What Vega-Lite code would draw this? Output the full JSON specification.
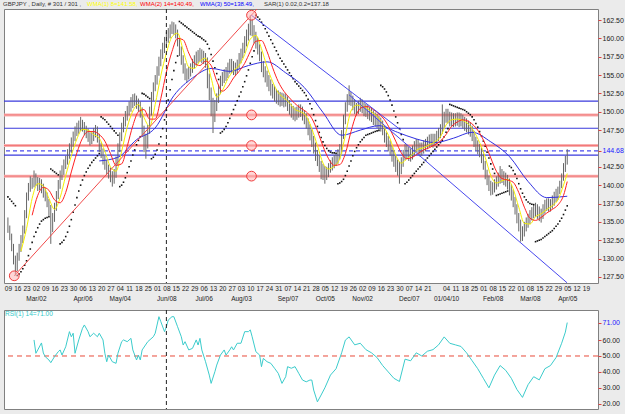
{
"$schema":"https://vega.github.io/schema/vega-lite/v6.json",
"background":"#ebebeb",
"padding":{"left":2,"top":0,"right":3,"bottom":5},
"spacing":27,
"bounds":"flush",
"config":{"view":{"stroke":"#808080","fill":"#ffffff"},"font":"Liberation Sans","axis":{"labelFont":"Liberation Sans","labelFontSize":7,"labelColor":"#222222","grid":false,"domain":false,"labelOverlap":false,"labelBound":false,"labelFlush":false}},
"datasets":{
"bars":[
{"i":0,"h":135.6,"l":133.5,"s":138.4},{"i":1,"h":134.5,"l":132.5,"s":138.1},{"i":2,"h":133.4,"l":131.0,"s":137.8},{"i":3,"h":132.0,"l":129.2,"s":137.5},{"i":4,"h":130.4,"l":127.7,"s":137.2},
{"i":5,"h":130.8,"l":128.3,"s":127.7},{"i":6,"h":132.0,"l":129.7,"s":127.9},{"i":7,"h":133.2,"l":130.9,"s":128.2},{"i":8,"h":134.5,"l":132.1,"s":128.6},{"i":9,"h":136.6,"l":133.4,"s":129.1},
{"i":10,"h":139.0,"l":135.5,"s":129.7},{"i":11,"h":140.3,"l":137.9,"s":130.4},{"i":12,"h":141.2,"l":139.1,"s":131.3},{"i":13,"h":141.0,"l":139.5,"s":132.2},{"i":14,"h":142.0,"l":139.7,"s":133.0},
{"i":15,"h":141.6,"l":139.9,"s":133.6},{"i":16,"h":141.1,"l":139.2,"s":134.2},{"i":17,"h":141.0,"l":139.3,"s":134.7},{"i":18,"h":140.8,"l":138.9,"s":135.1},{"i":19,"h":140.2,"l":138.3,"s":135.3},
{"i":20,"h":139.6,"l":137.8,"s":135.5},{"i":21,"h":139.0,"l":137.0,"s":135.6},{"i":22,"h":138.1,"l":135.8,"s":135.7},{"i":23,"h":137.3,"l":132.0,"s":142.2},{"i":24,"h":136.2,"l":133.6,"s":142.0},
{"i":25,"h":137.6,"l":135.0,"s":141.8},{"i":26,"h":139.2,"l":136.5,"s":141.6},{"i":27,"h":140.7,"l":138.1,"s":141.4},{"i":28,"h":142.0,"l":139.5,"s":132.0},{"i":29,"h":142.7,"l":140.7,"s":132.2},
{"i":30,"h":143.5,"l":141.4,"s":132.5},{"i":31,"h":144.0,"l":142.2,"s":133.0},{"i":32,"h":144.9,"l":142.8,"s":133.6},{"i":33,"h":145.7,"l":143.6,"s":134.4},{"i":34,"h":146.5,"l":144.4,"s":135.3},
{"i":35,"h":147.3,"l":145.2,"s":136.3},{"i":36,"h":148.0,"l":146.0,"s":137.3},{"i":37,"h":148.5,"l":146.7,"s":138.3},{"i":38,"h":148.8,"l":147.0,"s":139.2},{"i":39,"h":149.3,"l":147.4,"s":140.0},
{"i":40,"h":148.9,"l":147.3,"s":140.7},{"i":41,"h":148.6,"l":146.8,"s":141.3},{"i":42,"h":148.1,"l":146.4,"s":141.8},{"i":43,"h":147.7,"l":145.9,"s":142.3},{"i":44,"h":147.2,"l":145.4,"s":142.7},
{"i":45,"h":147.3,"l":145.6,"s":143.1},{"i":46,"h":147.8,"l":146.0,"s":143.4},{"i":47,"h":148.2,"l":146.5,"s":143.7},{"i":48,"h":148.0,"l":145.8,"s":144.0},{"i":49,"h":147.0,"l":144.5,"s":144.3},
{"i":50,"h":145.8,"l":143.7,"s":149.3},{"i":51,"h":145.0,"l":142.8,"s":149.1},{"i":52,"h":144.0,"l":142.1,"s":148.9},{"i":53,"h":143.4,"l":141.5,"s":148.6},{"i":54,"h":142.8,"l":140.9,"s":148.3},
{"i":55,"h":142.4,"l":140.4,"s":148.0},{"i":56,"h":141.9,"l":139.8,"s":147.7},{"i":57,"h":142.2,"l":140.2,"s":147.4},{"i":58,"h":143.9,"l":141.0,"s":147.1},{"i":59,"h":145.7,"l":142.7,"s":146.8},
{"i":60,"h":147.2,"l":144.5,"s":139.8},{"i":61,"h":148.5,"l":146.0,"s":140.0},{"i":62,"h":149.3,"l":147.2,"s":140.4},{"i":63,"h":150.1,"l":148.0,"s":141.0},{"i":64,"h":150.8,"l":148.8,"s":141.7},
{"i":65,"h":151.4,"l":149.5,"s":142.5},{"i":66,"h":152.0,"l":150.0,"s":143.3},{"i":67,"h":152.4,"l":150.5,"s":144.1},{"i":68,"h":152.5,"l":150.8,"s":144.8},{"i":69,"h":152.2,"l":150.4,"s":145.5},
{"i":70,"h":151.8,"l":150.0,"s":146.1},{"i":71,"h":151.4,"l":149.2,"s":146.6},{"i":72,"h":150.6,"l":146.6,"s":152.5},{"i":73,"h":148.1,"l":144.5,"s":152.4},{"i":74,"h":147.0,"l":143.6,"s":152.2},
{"i":75,"h":148.2,"l":145.0,"s":152.0},{"i":76,"h":150.7,"l":147.0,"s":151.8},{"i":77,"h":152.7,"l":149.5,"s":143.6},{"i":78,"h":154.0,"l":151.5,"s":143.8},{"i":79,"h":155.0,"l":152.8,"s":144.2},
{"i":80,"h":156.2,"l":153.7,"s":144.8},{"i":81,"h":157.5,"l":154.9,"s":145.6},{"i":82,"h":158.5,"l":156.2,"s":146.6},{"i":83,"h":159.4,"l":157.2,"s":147.7},{"i":84,"h":160.2,"l":158.0,"s":148.9},
{"i":85,"h":160.9,"l":158.8,"s":150.2},{"i":86,"h":161.4,"l":159.4,"s":151.6},{"i":87,"h":161.9,"l":160.0,"s":153.0},{"i":88,"h":162.3,"l":160.6,"s":154.4},{"i":89,"h":162.2,"l":160.5,"s":155.6},
{"i":90,"h":161.9,"l":160.0,"s":156.7},{"i":91,"h":161.2,"l":158.9,"s":157.6},{"i":92,"h":160.1,"l":157.6,"s":162.3},{"i":93,"h":158.9,"l":156.4,"s":162.1},{"i":94,"h":157.7,"l":155.2,"s":161.9},
{"i":95,"h":156.6,"l":154.3,"s":161.7},{"i":96,"h":155.9,"l":154.0,"s":161.5},{"i":97,"h":156.1,"l":154.4,"s":161.3},{"i":98,"h":156.6,"l":154.8,"s":161.1},{"i":99,"h":157.2,"l":155.3,"s":160.9},
{"i":100,"h":157.7,"l":155.9,"s":160.7},{"i":101,"h":158.2,"l":156.3,"s":160.5},{"i":102,"h":158.4,"l":156.6,"s":160.3},{"i":103,"h":158.7,"l":156.8,"s":160.2},{"i":104,"h":158.5,"l":156.6,"s":160.0},
{"i":105,"h":158.3,"l":156.5,"s":159.8},{"i":106,"h":158.0,"l":156.0,"s":159.6},{"i":107,"h":157.4,"l":153.2,"s":159.2},{"i":108,"h":155.2,"l":151.6,"s":158.6},{"i":109,"h":153.3,"l":149.4,"s":157.8},
{"i":110,"h":151.9,"l":147.1,"s":156.9},{"i":111,"h":151.6,"l":148.6,"s":156.0},{"i":112,"h":152.5,"l":150.1,"s":155.2},{"i":113,"h":153.7,"l":151.2,"s":154.4},{"i":114,"h":154.9,"l":152.4,"s":147.1},
{"i":115,"h":155.4,"l":153.5,"s":147.3},{"i":116,"h":155.8,"l":153.9,"s":147.6},{"i":117,"h":156.1,"l":154.2,"s":148.0},{"i":118,"h":156.7,"l":154.6,"s":148.5},{"i":119,"h":157.2,"l":155.2,"s":149.1},
{"i":120,"h":157.2,"l":155.3,"s":149.7},{"i":121,"h":156.9,"l":155.0,"s":150.3},{"i":122,"h":156.7,"l":154.9,"s":150.9},{"i":123,"h":157.1,"l":155.2,"s":151.5},{"i":124,"h":158.0,"l":155.8,"s":152.1},
{"i":125,"h":158.6,"l":156.6,"s":152.7},{"i":126,"h":159.4,"l":157.3,"s":153.4},{"i":127,"h":160.3,"l":158.0,"s":154.1},{"i":128,"h":161.2,"l":158.9,"s":154.9},{"i":129,"h":162.0,"l":159.7,"s":155.7},
{"i":130,"h":163.15,"l":160.4,"s":156.6},{"i":131,"h":162.6,"l":160.3,"s":157.5},{"i":132,"h":161.8,"l":159.3,"s":158.3},{"i":133,"h":160.9,"l":158.6,"s":163.15},{"i":134,"h":160.1,"l":157.8,"s":162.9},
{"i":135,"h":159.2,"l":156.9,"s":162.6},{"i":136,"h":158.2,"l":155.4,"s":162.2},{"i":137,"h":156.9,"l":154.7,"s":161.8},{"i":138,"h":156.2,"l":154.0,"s":161.3},{"i":139,"h":155.6,"l":153.4,"s":160.8},
{"i":140,"h":155.0,"l":152.8,"s":160.3},{"i":141,"h":154.4,"l":152.2,"s":159.8},{"i":142,"h":153.8,"l":151.8,"s":159.3},{"i":143,"h":153.5,"l":151.4,"s":158.8},{"i":144,"h":153.1,"l":151.1,"s":158.3},
{"i":145,"h":152.9,"l":150.9,"s":157.8},{"i":146,"h":152.7,"l":150.7,"s":157.3},{"i":147,"h":152.6,"l":150.8,"s":156.9},{"i":148,"h":152.5,"l":150.6,"s":156.5},{"i":149,"h":152.4,"l":150.7,"s":156.1},
{"i":150,"h":152.1,"l":150.1,"s":155.7},{"i":151,"h":151.6,"l":149.6,"s":155.3},{"i":152,"h":151.1,"l":149.2,"s":154.9},{"i":153,"h":150.8,"l":148.9,"s":154.5},{"i":154,"h":150.6,"l":148.7,"s":154.1},
{"i":155,"h":150.7,"l":148.9,"s":153.8},{"i":156,"h":151.0,"l":149.2,"s":153.5},{"i":157,"h":151.0,"l":149.3,"s":153.2},{"i":158,"h":150.7,"l":148.8,"s":152.9},{"i":159,"h":150.2,"l":148.3,"s":152.6},
{"i":160,"h":149.8,"l":147.7,"s":152.2},{"i":161,"h":149.1,"l":146.8,"s":151.7},{"i":162,"h":148.3,"l":146.1,"s":151.1},{"i":163,"h":147.6,"l":145.2,"s":150.4},{"i":164,"h":146.7,"l":144.3,"s":149.6},
{"i":165,"h":145.8,"l":143.3,"s":148.8},{"i":166,"h":144.8,"l":142.6,"s":148.0},{"i":167,"h":144.1,"l":141.8,"s":147.2},{"i":168,"h":143.3,"l":140.8,"s":146.5},{"i":169,"h":142.9,"l":140.7,"s":145.9},
{"i":170,"h":142.6,"l":140.2,"s":145.4},{"i":171,"h":142.5,"l":140.7,"s":145.0},{"i":172,"h":143.0,"l":141.1,"s":144.7},{"i":173,"h":143.4,"l":141.7,"s":144.5},{"i":174,"h":143.8,"l":142.0,"s":144.4},
{"i":175,"h":144.1,"l":142.3,"s":144.4},{"i":176,"h":144.3,"l":142.6,"s":144.35},{"i":177,"h":144.9,"l":142.9,"s":140.2},{"i":178,"h":145.6,"l":143.5,"s":140.3},{"i":179,"h":147.5,"l":144.3,"s":140.5},
{"i":180,"h":149.6,"l":146.3,"s":140.8},{"i":181,"h":151.3,"l":148.3,"s":141.3},{"i":182,"h":152.4,"l":150.0,"s":141.9},{"i":183,"h":153.6,"l":150.9,"s":142.6},{"i":184,"h":152.7,"l":150.8,"s":143.3},
{"i":185,"h":152.2,"l":150.2,"s":144.0},{"i":186,"h":151.6,"l":149.7,"s":144.6},{"i":187,"h":151.2,"l":149.5,"s":145.1},{"i":188,"h":151.5,"l":149.7,"s":145.5},{"i":189,"h":151.9,"l":150.0,"s":145.9},
{"i":190,"h":151.7,"l":149.8,"s":146.2},{"i":191,"h":151.3,"l":149.4,"s":146.5},{"i":192,"h":151.1,"l":149.3,"s":146.8},{"i":193,"h":150.9,"l":149.0,"s":146.9},{"i":194,"h":150.6,"l":148.8,"s":147.0},
{"i":195,"h":150.5,"l":148.6,"s":147.1},{"i":196,"h":150.2,"l":148.2,"s":147.2},{"i":197,"h":149.9,"l":148.0,"s":147.3},{"i":198,"h":149.7,"l":147.8,"s":147.4},{"i":199,"h":149.4,"l":147.5,"s":147.45},
{"i":200,"h":149.2,"l":147.3,"s":153.6},{"i":201,"h":148.8,"l":146.8,"s":153.4},{"i":202,"h":148.0,"l":145.8,"s":153.1},{"i":203,"h":147.2,"l":145.2,"s":152.7},{"i":204,"h":146.7,"l":144.6,"s":152.2},
{"i":205,"h":146.1,"l":144.0,"s":151.6},{"i":206,"h":145.4,"l":143.2,"s":150.9},{"i":207,"h":144.7,"l":142.5,"s":150.1},{"i":208,"h":144.0,"l":141.8,"s":149.3},{"i":209,"h":143.5,"l":141.3,"s":148.5},
{"i":210,"h":143.2,"l":140.2,"s":147.7},{"i":211,"h":143.8,"l":141.5,"s":146.9},{"i":212,"h":144.8,"l":142.5,"s":146.2},{"i":213,"h":145.6,"l":143.4,"s":140.2},{"i":214,"h":145.5,"l":143.6,"s":140.4},
{"i":215,"h":145.2,"l":143.3,"s":140.7},{"i":216,"h":145.0,"l":143.2,"s":141.0},{"i":217,"h":145.4,"l":143.5,"s":141.3},{"i":218,"h":146.0,"l":144.0,"s":141.6},{"i":219,"h":146.3,"l":144.5,"s":141.9},
{"i":220,"h":146.2,"l":144.3,"s":142.2},{"i":221,"h":145.8,"l":143.9,"s":142.5},{"i":222,"h":145.8,"l":144.0,"s":142.8},{"i":223,"h":146.1,"l":144.3,"s":143.1},{"i":224,"h":146.3,"l":144.6,"s":143.4},
{"i":225,"h":146.6,"l":144.9,"s":143.7},{"i":226,"h":146.9,"l":145.2,"s":144.0},{"i":227,"h":147.0,"l":145.3,"s":144.3},{"i":228,"h":147.0,"l":145.1,"s":144.6},{"i":229,"h":147.0,"l":145.3,"s":144.9},
{"i":230,"h":147.4,"l":145.6,"s":145.2},{"i":231,"h":147.8,"l":146.0,"s":145.5},{"i":232,"h":148.3,"l":146.4,"s":145.8},{"i":233,"h":151.0,"l":147.0,"s":146.1},{"i":234,"h":150.0,"l":147.8,"s":146.6},
{"i":235,"h":150.4,"l":148.5,"s":147.2},{"i":236,"h":150.4,"l":148.4,"s":147.7},{"i":237,"h":150.0,"l":148.0,"s":151.0},{"i":238,"h":149.9,"l":148.0,"s":150.9},{"i":239,"h":149.8,"l":147.9,"s":150.8},
{"i":240,"h":149.8,"l":148.0,"s":150.7},{"i":241,"h":149.9,"l":148.1,"s":150.6},{"i":242,"h":149.9,"l":147.9,"s":150.5},{"i":243,"h":149.8,"l":148.0,"s":150.4},{"i":244,"h":149.6,"l":147.7,"s":150.3},
{"i":245,"h":149.3,"l":147.4,"s":150.2},{"i":246,"h":149.1,"l":147.2,"s":150.0},{"i":247,"h":148.8,"l":146.9,"s":149.8},{"i":248,"h":148.5,"l":146.6,"s":149.6},{"i":249,"h":148.1,"l":146.0,"s":149.3},
{"i":250,"h":147.4,"l":145.2,"s":148.9},{"i":251,"h":146.6,"l":144.7,"s":148.4},{"i":252,"h":146.1,"l":144.2,"s":147.9},{"i":253,"h":145.6,"l":143.8,"s":147.3},{"i":254,"h":145.1,"l":143.0,"s":146.7},
{"i":255,"h":144.3,"l":142.1,"s":146.0},{"i":256,"h":143.3,"l":140.8,"s":145.3},{"i":257,"h":142.1,"l":140.0,"s":144.5},{"i":258,"h":141.3,"l":139.2,"s":143.7},{"i":259,"h":140.6,"l":138.6,"s":142.9},
{"i":260,"h":140.4,"l":138.7,"s":142.2},{"i":261,"h":140.8,"l":139.0,"s":141.6},{"i":262,"h":141.2,"l":139.4,"s":138.6},{"i":263,"h":141.7,"l":139.8,"s":138.7},{"i":264,"h":142.6,"l":140.2,"s":138.8},
{"i":265,"h":142.2,"l":140.3,"s":138.9},{"i":266,"h":141.9,"l":140.0,"s":139.0},{"i":267,"h":141.7,"l":139.8,"s":139.1},{"i":268,"h":141.4,"l":139.4,"s":139.2},{"i":269,"h":140.9,"l":138.6,"s":142.6},
{"i":270,"h":140.1,"l":137.9,"s":142.4},{"i":271,"h":139.4,"l":137.0,"s":142.0},{"i":272,"h":138.4,"l":136.0,"s":141.5},{"i":273,"h":137.4,"l":134.8,"s":140.9},{"i":274,"h":136.2,"l":133.7,"s":140.2},
{"i":275,"h":135.3,"l":132.3,"s":139.5},{"i":276,"h":134.4,"l":132.4,"s":138.9},{"i":277,"h":135.0,"l":133.0,"s":138.4},{"i":278,"h":135.6,"l":133.7,"s":138.0},{"i":279,"h":136.1,"l":134.2,"s":137.7},
{"i":280,"h":136.6,"l":134.7,"s":137.5},{"i":281,"h":137.0,"l":135.2,"s":137.4},{"i":282,"h":137.3,"l":135.5,"s":137.35},{"i":283,"h":137.6,"l":135.7,"s":132.3},{"i":284,"h":137.4,"l":135.4,"s":132.4},
{"i":285,"h":137.1,"l":135.1,"s":132.5},{"i":286,"h":136.8,"l":134.9,"s":132.6},{"i":287,"h":137.4,"l":135.4,"s":132.8},{"i":288,"h":138.0,"l":136.1,"s":133.0},{"i":289,"h":138.2,"l":136.5,"s":133.2},
{"i":290,"h":138.2,"l":136.4,"s":133.4},{"i":291,"h":138.1,"l":136.4,"s":133.6},{"i":292,"h":138.6,"l":136.8,"s":133.8},{"i":293,"h":139.1,"l":137.2,"s":134.1},{"i":294,"h":139.5,"l":137.7,"s":134.4},
{"i":295,"h":139.8,"l":138.0,"s":134.7},{"i":296,"h":140.6,"l":138.8,"s":135.1},{"i":297,"h":141.6,"l":139.6,"s":135.5},{"i":298,"h":143.0,"l":140.6,"s":136.0},{"i":299,"h":144.0,"l":141.8,"s":136.6},
{"i":300,"h":144.9,"l":142.8,"s":137.18}
],
"ma":[
{"i":7,"y":131.0},{"i":10,"y":134.1},{"i":13,"y":138.2,"r":135.9},{"i":16,"y":140.2,"r":138.6},{"i":19,"y":139.9,"r":139.7},{"i":22,"y":138.2,"r":139.3},{"i":25,"y":136.7,"r":138.0},{"i":28,"y":138.3,"r":137.6},{"i":31,"y":141.3,"r":139.0},{"i":34,"y":144.0,"r":141.8},
{"i":37,"y":146.3,"r":144.4},{"i":40,"y":147.6,"r":146.4},{"i":43,"y":147.5,"r":147.3},{"i":46,"y":146.9,"r":147.3},{"i":49,"y":146.4,"r":146.9},{"i":52,"y":144.6,"r":146.0},{"i":55,"y":142.5,"r":144.3},{"i":58,"y":141.9,"r":142.7},{"i":61,"y":144.6,"r":142.9},{"i":64,"y":147.9,"r":145.3},
{"i":67,"y":150.1,"r":148.1},{"i":70,"y":151.0,"r":150.0},{"i":73,"y":149.2,"r":150.3},{"i":76,"y":148.0,"r":149.0},{"i":79,"y":151.0,"r":149.0},{"i":82,"y":154.9,"r":151.8},{"i":85,"y":158.0,"r":155.4},{"i":88,"y":160.2,"r":158.2},{"i":91,"y":160.7,"r":160.0},{"i":94,"y":158.4,"r":159.8},
{"i":97,"y":156.1,"r":158.0},{"i":100,"y":155.9,"r":156.6},{"i":103,"y":156.9,"r":156.3},{"i":106,"y":157.3,"r":156.9},{"i":109,"y":154.6,"r":156.3},{"i":112,"y":152.0,"r":154.2},{"i":115,"y":152.9,"r":152.8},{"i":118,"y":154.5,"r":153.4},{"i":121,"y":155.6,"r":154.6},{"i":124,"y":156.3,"r":155.5},
{"i":127,"y":157.8,"r":156.6},{"i":130,"y":159.9,"r":158.2},{"i":133,"y":160.4,"r":159.6},{"i":136,"y":158.6,"r":159.7},{"i":139,"y":156.1,"r":158.2},{"i":142,"y":154.1,"r":156.0},{"i":145,"y":152.6,"r":154.1},{"i":148,"y":151.9,"r":152.8},{"i":151,"y":151.2,"r":151.9},{"i":154,"y":150.3,"r":151.1},
{"i":157,"y":150.0,"r":150.5},{"i":160,"y":149.4,"r":150.0},{"i":163,"y":147.7,"r":149.1},{"i":166,"y":145.4,"r":147.4},{"i":169,"y":143.0,"r":145.3},{"i":172,"y":142.2,"r":143.6},{"i":175,"y":142.6,"r":142.7},{"i":178,"y":143.6,"r":142.8},{"i":181,"y":146.8,"r":144.3},{"i":184,"y":150.1,"r":147.3},
{"i":187,"y":150.9,"r":149.7},{"i":190,"y":150.8,"r":150.6},{"i":193,"y":150.4,"r":150.7},{"i":196,"y":149.8,"r":150.3},{"i":199,"y":149.1,"r":149.7},{"i":202,"y":147.8,"r":148.9},{"i":205,"y":146.3,"r":147.6},{"i":208,"y":144.1,"r":146.0},{"i":211,"y":143.0,"r":144.4},{"i":214,"y":143.6,"r":143.6},
{"i":217,"y":144.2,"r":143.8},{"i":220,"y":144.9,"r":144.3},{"i":223,"y":145.1,"r":144.8},{"i":226,"y":145.5,"r":145.1},{"i":229,"y":145.9,"r":145.5},{"i":232,"y":146.6,"r":146.0},{"i":235,"y":148.2,"r":146.9},{"i":238,"y":148.9,"r":148.0},{"i":241,"y":149.0,"r":148.6},{"i":244,"y":148.8,"r":148.9},
{"i":247,"y":148.3,"r":148.7},{"i":250,"y":147.3,"r":148.1},{"i":253,"y":145.8,"r":147.1},{"i":256,"y":143.8,"r":145.6},{"i":259,"y":141.3,"r":143.7},{"i":262,"y":140.3,"r":141.9},{"i":265,"y":140.6,"r":140.9},{"i":268,"y":140.8,"r":140.7},{"i":271,"y":139.5,"r":140.4},{"i":274,"y":137.0,"r":139.0},
{"i":277,"y":134.8,"r":137.0},{"i":280,"y":134.7,"r":135.5},{"i":283,"y":135.7,"r":135.2},{"i":286,"y":136.1,"r":135.6},{"i":289,"y":136.7,"r":136.2},{"i":292,"y":137.2,"r":136.7},{"i":295,"y":138.0,"r":137.3},{"i":298,"y":140.0,"r":138.6},{"i":300,"y":141.58,"r":140.49}
],
"ma50":[
{"i":49,"b":143.3},{"i":59,"b":143.8},{"i":69,"b":146.2},{"i":79,"b":147.8},{"i":89,"b":152.2},{"i":99,"b":154.6},{"i":109,"b":155.9},{"i":119,"b":155.5},{"i":129,"b":156.3},{"i":139,"b":156.8},
{"i":149,"b":155.3},{"i":159,"b":153.3},{"i":169,"b":149.9},{"i":179,"b":146.8},{"i":189,"b":147.5},{"i":199,"b":148.1},{"i":209,"b":147.2},{"i":219,"b":146.3},{"i":229,"b":145.8},{"i":239,"b":146.4},
{"i":249,"b":147.2},{"i":259,"b":145.9},{"i":269,"b":143.9},{"i":279,"b":140.5},{"i":289,"b":138.3},{"i":300,"b":138.49}
],
"rsi":[
{"i":14,"r":60.1},{"i":15,"r":51.7},{"i":16,"r":53.8},{"i":18,"r":58.2},{"i":19,"r":51.9},{"i":20,"r":49.6},{"i":22,"r":47.5},{"i":23,"r":45.8},{"i":25,"r":49.6},{"i":27,"r":52.7},
{"i":28,"r":53.8},{"i":29,"r":50.6},{"i":31,"r":55.8},{"i":33,"r":65.3},{"i":34,"r":62.1},{"i":35,"r":64.3},{"i":36,"r":51.7},{"i":38,"r":60.1},{"i":40,"r":67.4},{"i":41,"r":69.5},
{"i":43,"r":65.3},{"i":44,"r":62.1},{"i":46,"r":64.3},{"i":48,"r":62.1},{"i":49,"r":64.3},{"i":51,"r":60.1},{"i":52,"r":51.7},{"i":53,"r":46.4},{"i":54,"r":50.6},{"i":56,"r":46.4},
{"i":58,"r":45.4},{"i":59,"r":51.7},{"i":61,"r":59.0},{"i":62,"r":60.1},{"i":64,"r":59.0},{"i":66,"r":61.1},{"i":67,"r":53.8},{"i":69,"r":47.5},{"i":70,"r":50.6},{"i":71,"r":47.5},
{"i":72,"r":53.8},{"i":75,"r":59.0},{"i":78,"r":62.1},{"i":79,"r":64.3},{"i":81,"r":74.7},{"i":82,"r":71.6},{"i":84,"r":65.3},{"i":85,"r":68.4},{"i":86,"r":72.6},{"i":88,"r":74.7},
{"i":89,"r":74.7},{"i":91,"r":68.4},{"i":93,"r":62.1},{"i":94,"r":56.9},{"i":95,"r":59.0},{"i":97,"r":53.8},{"i":99,"r":54.8},{"i":101,"r":60.1},{"i":102,"r":56.9},{"i":103,"r":61.1},
{"i":104,"r":53.8},{"i":106,"r":46.4},{"i":108,"r":38.0},{"i":109,"r":32.8},{"i":111,"r":40.1},{"i":112,"r":44.3},{"i":114,"r":50.6},{"i":116,"r":53.8},{"i":117,"r":50.6},{"i":119,"r":53.8},
{"i":120,"r":55.8},{"i":121,"r":53.8},{"i":123,"r":58.0},{"i":125,"r":58.0},{"i":127,"r":65.3},{"i":129,"r":65.3},{"i":130,"r":66.4},{"i":131,"r":62.1},{"i":133,"r":52.7},{"i":135,"r":50.6},
{"i":136,"r":43.3},{"i":137,"r":48.5},{"i":139,"r":46.4},{"i":141,"r":45.4},{"i":143,"r":42.3},{"i":145,"r":39.1},{"i":147,"r":32.8},{"i":149,"r":37.0},{"i":150,"r":43.3},{"i":152,"r":42.3},
{"i":154,"r":43.3},{"i":156,"r":39.1},{"i":158,"r":34.9},{"i":160,"r":33.8},{"i":162,"r":34.9},{"i":163,"r":34.9},{"i":164,"r":28.6},{"i":166,"r":21.2},{"i":168,"r":25.5},{"i":170,"r":30.0},
{"i":173,"r":38.0},{"i":176,"r":42.0},{"i":179,"r":52.0},{"i":181,"r":60.0},{"i":183,"r":62.0},{"i":186,"r":57.0},{"i":189,"r":58.0},{"i":192,"r":54.0},{"i":195,"r":52.0},{"i":198,"r":49.0},
{"i":201,"r":44.0},{"i":204,"r":40.0},{"i":207,"r":36.0},{"i":210,"r":34.0},{"i":213,"r":48.0},{"i":216,"r":47.0},{"i":219,"r":52.0},{"i":222,"r":50.0},{"i":225,"r":53.0},{"i":228,"r":54.0},
{"i":231,"r":57.0},{"i":234,"r":62.0},{"i":237,"r":58.0},{"i":240,"r":57.0},{"i":243,"r":56.0},{"i":246,"r":52.0},{"i":249,"r":47.0},{"i":252,"r":42.0},{"i":255,"r":36.0},{"i":258,"r":30.0},
{"i":261,"r":38.0},{"i":264,"r":44.0},{"i":267,"r":41.0},{"i":270,"r":36.0},{"i":273,"r":29.0},{"i":276,"r":24.0},{"i":279,"r":32.0},{"i":282,"r":37.0},{"i":285,"r":35.0},{"i":288,"r":42.0},
{"i":291,"r":44.0},{"i":294,"r":49.0},{"i":297,"r":58.0},{"i":299,"r":65.0},{"i":300,"r":71.0}
],
"lv":[{"p":149.57,"k":"fib"},{"p":145.4,"k":"fib"},{"p":141.23,"k":"fib"},{"p":151.45,"k":"sr"},{"p":147.75,"k":"sr"},{"p":144.1,"k":"sr"},{"p":144.68,"k":"last"}],
"tl":[{"g":"fib","i":3.4,"p":127.65},{"g":"fib","i":133.6,"p":164.0},{"g":"up","i":130.6,"p":163.15},{"g":"up","i":210.8,"p":147.5},{"g":"lo","i":183,"p":152.3},{"g":"lo","i":299.9,"p":126.7}],
"circ":[{"i":130.65,"p":163.15},{"i":130.65,"p":149.57},{"i":130.65,"p":145.4},{"i":130.65,"p":141.23},{"i":3.4,"p":127.65}],
"vl":[{"i":85}],
"hdr":[{"t":"GBPJPY , Daily, # 301 / 301 ,","k":"base","i":-2.64},{"t":"WMA(1) 8=141.58,","k":"w8","i":42.42},{"t":"WMA(2) 14=140.49,","k":"w14","i":70.85},{"t":"WMA(3) 50=138.49,","k":"w50","i":103.03},{"t":"SAR(1) 0.02,0.2=137.18","k":"sar","i":137.35}],
"rhdr":[{"t":"RSI(1) 14=71.00","i":-1.6}]
},
"vconcat":[
{"width":594,"height":274,
"layer":[
{"data":{"name":"lv"},"transform":[{"filter":"datum.k=='fib'"}],"mark":{"type":"rule","color":"#f8b0b0","strokeWidth":3},
 "encoding":{"y":{"field":"p","type":"quantitative","title":null,"scale":{"domain":[126.67,164.0],"nice":false,"zero":false},
  "axis":{"orient":"right","values":[127.5,130,132.5,135,137.5,140,142.5,144.68,147.5,150,152.5,155,157.5,160,162.5],"tickCount":100,"format":".2f","tickColor":"#e04040","tickSize":3,"labelPadding":1,"labelFontSize":7,"labelOverlap":false,"labelColor":{"condition":{"test":"datum.value==144.68","value":"#2020ff"},"value":"#222222"}}}}},
{"data":{"name":"lv"},"transform":[{"filter":"datum.k=='fib'"}],"mark":{"type":"rule","color":"#f06a6a","strokeWidth":0.8},
 "encoding":{"y":{"field":"p","type":"quantitative","title":null,"scale":{"domain":[126.67,164.0],"nice":false,"zero":false}}}},
{"data":{"name":"lv"},"transform":[{"filter":"datum.k=='sr'"}],"mark":{"type":"rule","color":"#3a3adc","strokeWidth":1.2},
 "encoding":{"y":{"field":"p","type":"quantitative","title":null,"scale":{"domain":[126.67,164.0],"nice":false,"zero":false}}}},
{"data":{"name":"lv"},"transform":[{"filter":"datum.k=='last'"}],"mark":{"type":"rule","color":"#4a4aee","strokeWidth":1.2,"strokeDash":[4,3]},
 "encoding":{"y":{"field":"p","type":"quantitative","title":null,"scale":{"domain":[126.67,164.0],"nice":false,"zero":false}}}},
{"data":{"name":"bars"},"mark":{"type":"rule","color":"#666666","strokeWidth":1},
 "encoding":{"x":{"field":"i","type":"quantitative","title":null,"scale":{"domain":[-2.1,316.5],"nice":false,"zero":false},
   "axis":{"values":[0,5,10,15,20,25,30,35,40,45,50,55,60,65,70,75,80,85,90,95,100,105,110,115,120,125,130,135,140,145,150,155,160,165,170,175,180,185,190,195,200,205,210,215,220,225,230,235,240,245,250,255,260,265,270,275,280,285,290,295,300,305,310],"tickCount":200,
    "labelExpr":"[datum.value==230?'':timeFormat(datetime(2009,1,9+7*datum.value/5),'%d'), indexof([15,40,60,85,105,125,150,170,190,215,235,260,280,300],datum.value)>=0?['Mar/02','Apr/06','May/04','Jun/08','Jul/06','Aug/03','Sep/07','Oct/05','Nov/02','Dec/07','01/04/10','Feb/08','Mar/08','Apr/05'][indexof([15,40,60,85,105,125,150,170,190,215,235,260,280,300],datum.value)]:'']",
    "ticks":false,"labelFontSize":6.5,"labelPadding":2,"labelLineHeight":10,"labelOverlap":false,"labelBound":false,"labelFlush":false,"labelBaseline":"top"}},
  "y":{"field":"l","type":"quantitative","title":null,"scale":{"domain":[126.67,164.0],"nice":false,"zero":false}},"y2":{"field":"h"}}},
{"data":{"name":"bars"},"mark":{"type":"square","size":2.5,"color":"#111111","opacity":1},
 "encoding":{"x":{"field":"i","type":"quantitative","title":null,"scale":{"domain":[-2.1,316.5],"nice":false,"zero":false}},
  "y":{"field":"s","type":"quantitative","title":null,"scale":{"domain":[126.67,164.0],"nice":false,"zero":false}}}},
{"data":{"name":"ma50"},"mark":{"type":"line","color":"#3030e0","strokeWidth":1,"interpolate":"monotone"},
 "encoding":{"x":{"field":"i","type":"quantitative","title":null,"scale":{"domain":[-2.1,316.5],"nice":false,"zero":false}},
  "y":{"field":"b","type":"quantitative","title":null,"scale":{"domain":[126.67,164.0],"nice":false,"zero":false}}}},
{"data":{"name":"ma"},"mark":{"type":"line","color":"#f5f000","strokeWidth":1,"interpolate":"monotone"},
 "encoding":{"x":{"field":"i","type":"quantitative","title":null,"scale":{"domain":[-2.1,316.5],"nice":false,"zero":false}},
  "y":{"field":"y","type":"quantitative","title":null,"scale":{"domain":[126.67,164.0],"nice":false,"zero":false}}}},
{"data":{"name":"ma"},"mark":{"type":"line","color":"#ff2020","strokeWidth":1,"interpolate":"monotone"},
 "encoding":{"x":{"field":"i","type":"quantitative","title":null,"scale":{"domain":[-2.1,316.5],"nice":false,"zero":false}},
  "y":{"field":"r","type":"quantitative","title":null,"scale":{"domain":[126.67,164.0],"nice":false,"zero":false}}}},
{"data":{"name":"tl"},"transform":[{"filter":"datum.g=='fib'"}],"mark":{"type":"line","color":"#f04a4a","strokeWidth":1,"clip":true},
 "encoding":{"x":{"field":"i","type":"quantitative","title":null,"scale":{"domain":[-2.1,316.5],"nice":false,"zero":false}},
  "y":{"field":"p","type":"quantitative","title":null,"scale":{"domain":[126.67,164.0],"nice":false,"zero":false}}}},
{"data":{"name":"tl"},"transform":[{"filter":"datum.g!='fib'"}],"mark":{"type":"line","color":"#4848ee","strokeWidth":1,"clip":true},
 "encoding":{"x":{"field":"i","type":"quantitative","title":null,"scale":{"domain":[-2.1,316.5],"nice":false,"zero":false}},
  "y":{"field":"p","type":"quantitative","title":null,"scale":{"domain":[126.67,164.0],"nice":false,"zero":false}},"detail":{"field":"g"}}},
{"data":{"name":"circ"},"mark":{"type":"point","shape":"circle","size":95,"filled":true,"fill":"#ffb4b4","fillOpacity":0.55,"stroke":"#f03c3c","strokeWidth":1},
 "encoding":{"x":{"field":"i","type":"quantitative","title":null,"scale":{"domain":[-2.1,316.5],"nice":false,"zero":false}},
  "y":{"field":"p","type":"quantitative","title":null,"scale":{"domain":[126.67,164.0],"nice":false,"zero":false}}}},
{"data":{"name":"vl"},"mark":{"type":"rule","color":"#222222","strokeWidth":1,"strokeDash":[4,3]},
 "encoding":{"x":{"field":"i","type":"quantitative","title":null,"scale":{"domain":[-2.1,316.5],"nice":false,"zero":false}}}},
{"data":{"name":"hdr"},"mark":{"type":"text","align":"left","baseline":"middle","fontSize":6,"font":"Liberation Sans"},
 "encoding":{"x":{"field":"i","type":"quantitative","title":null,"scale":{"domain":[-2.1,316.5],"nice":false,"zero":false}},
  "y":{"datum":164.72,"type":"quantitative","scale":{"domain":[126.67,164.0],"nice":false,"zero":false}},
  "text":{"field":"t"},
  "color":{"field":"k","type":"nominal","legend":null,"scale":{"domain":["base","w8","w14","w50","sar"],"range":["#333333","#ffff00","#ff0000","#0000ff","#333333"]}}}}
]},
{"width":594,"height":99,
"layer":[
{"data":{"values":[{"r":50}]},"mark":{"type":"rule","color":"#e84a3a","strokeWidth":1,"strokeDash":[5,4]},
 "encoding":{"y":{"field":"r","type":"quantitative","title":null,"scale":{"domain":[16.7,78.9],"nice":false,"zero":false},
  "axis":{"orient":"right","values":[20,30,40,50,60,71],"tickCount":100,"format":".2f","tickColor":"#e04040","tickSize":3,"labelPadding":1,"labelFontSize":7,"labelOverlap":false,"labelColor":{"condition":{"test":"datum.value==71","value":"#2020ff"},"value":"#222222"}}}}},
{"data":{"name":"rsi"},"mark":{"type":"line","color":"#3ccccc","strokeWidth":1},
 "encoding":{"x":{"field":"i","type":"quantitative","title":null,"axis":null,"scale":{"domain":[-2.1,316.5],"nice":false,"zero":false}},
  "y":{"field":"r","type":"quantitative","title":null,"scale":{"domain":[16.7,78.9],"nice":false,"zero":false}}}},
{"data":{"name":"vl"},"mark":{"type":"rule","color":"#222222","strokeWidth":1,"strokeDash":[4,3]},
 "encoding":{"x":{"field":"i","type":"quantitative","title":null,"axis":null,"scale":{"domain":[-2.1,316.5],"nice":false,"zero":false}}}},
{"data":{"name":"rhdr"},"mark":{"type":"text","align":"left","baseline":"middle","fontSize":6.5,"font":"Liberation Sans","color":"#30c8c8"},
 "encoding":{"x":{"field":"i","type":"quantitative","title":null,"axis":null,"scale":{"domain":[-2.1,316.5],"nice":false,"zero":false}},
  "y":{"datum":76.5,"type":"quantitative","scale":{"domain":[16.7,78.9],"nice":false,"zero":false}},
  "text":{"field":"t"}}}
]}
]
}
